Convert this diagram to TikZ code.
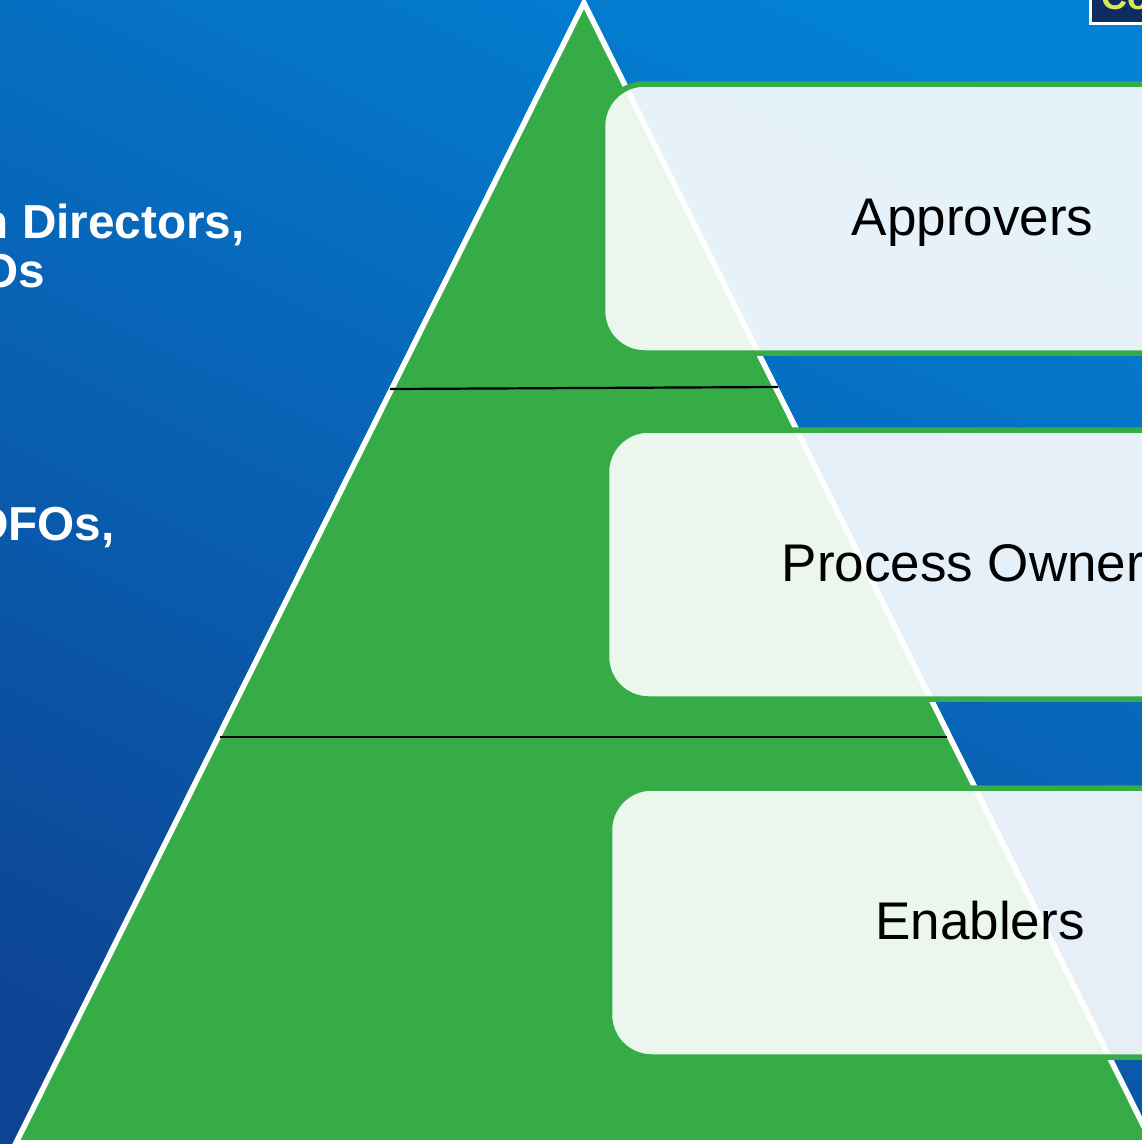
\documentclass[tikz,border=0pt]{standalone}
\usepackage{fontspec}
\setmainfont{Liberation Sans}
\tikzset{
    rolebox/.style={draw=boxgreen,line width=5.5pt,fill=white,fill opacity=0.9,outer sep=0pt,
        rounded corners=42pt,minimum width=735pt,minimum height=269pt,inner sep=0pt,anchor=north west},
    roletext/.style={text=black,inner sep=0pt,anchor=base,font=\fontsize{53}{53}\selectfont},
    sidetext/.style={text=white,inner sep=0pt,anchor=base west,font=\bfseries\fontsize{47.7}{48}\selectfont},
    tierline/.style={black,line width=2.2pt}
}
\definecolor{boxgreen}{HTML}{36AC47}
\definecolor{skytop}{HTML}{0281D5}
\definecolor{skybottom}{HTML}{0E4494}
\definecolor{logonavy}{HTML}{0F2C60}
\definecolor{logoyellow}{HTML}{D9E65A}
\begin{document}
\begin{tikzpicture}[x=1pt,y=-1pt]
    \useasboundingbox (0,0) rectangle (1142,1144);
    \clip (0,0) rectangle (1142,1144);
    \shade[bottom color=skybottom,top color=skytop,shading angle=-26] (-60,-60) rectangle (1202,1204);

    % logo in the corner
    \node[draw=white,line width=3pt,fill=logonavy,minimum width=70pt,minimum height=40pt,outer sep=0pt,anchor=north west,inner sep=0pt] (logo) at (1090.5,-17) {};
    \node[text=logoyellow,inner sep=0pt,anchor=base west,font=\bfseries\fontsize{36}{36}\selectfont] (logotext) at (1101,9.5) {Co};

    % pyramid
    \coordinate (T) at (584,3);
    \coordinate (L) at (16,1142.75);
    \coordinate (R) at (1152,1142.75);
    \draw[white,line width=5.5pt,fill=boxgreen,line join=miter] (T)--(L)--(R)--cycle;

    \coordinate (A1) at (390,389);
    \coordinate (A2) at (778,387);
    \coordinate (B1) at (220,737);
    \coordinate (B2) at (947,737);
    \draw[tierline] (A1)--(A2);
    \draw[tierline] (B1)--(B2);

    \node[rolebox] (approversbox) at (602.5,84) {};
    \node[rolebox] (ownersbox) at (606.5,430) {};
    \node[rolebox] (enablersbox) at (609.5,788) {};

    \node[roletext] (approvers) at (972.5,235) {Approvers};
    \node[roletext,anchor=base west] (owners) at (781.5,581) {Process Owner};
    \node[roletext] (enablers) at (980,939) {Enablers};

    \node[sidetext] (directors) at (-20.5,238) {n Directors,};
    \node[sidetext] (dos) at (-19,287) {Os};
    \node[sidetext] (dfos) at (-26,540) {DFOs,};
\end{tikzpicture}
\end{document}
